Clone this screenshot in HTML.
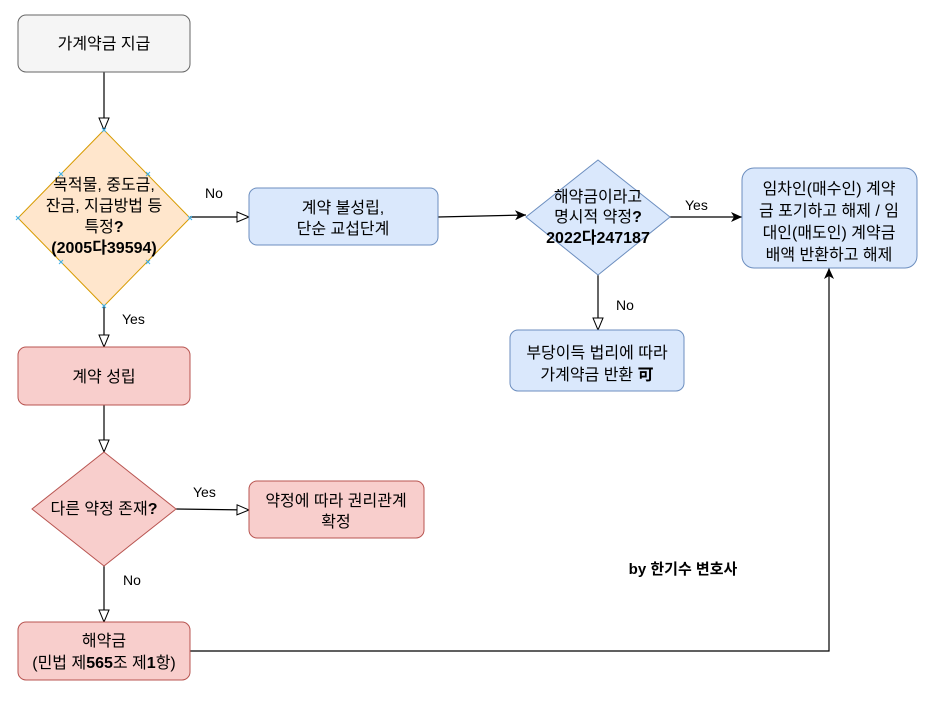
<!DOCTYPE html>
<html><head><meta charset="utf-8"><style>
html,body{margin:0;padding:0;background:#fff;}
svg{display:block;}
text{font-family:"Liberation Sans","Noto Sans CJK KR",sans-serif;font-size:16px;fill:#000;}
.b{font-weight:bold;}
.l{font-size:14px;}
</style></head><body>
<svg width="931" height="705" viewBox="0 0 931 705" xmlns="http://www.w3.org/2000/svg">
<defs>
<marker id="o" markerWidth="14" markerHeight="12" refX="13" refY="6" orient="auto" markerUnits="userSpaceOnUse"><path d="M1,1 L13,6 L1,11 Z" fill="#fff" stroke="#000" stroke-width="1"/></marker>
<marker id="f" markerWidth="12" markerHeight="10" refX="11" refY="5" orient="auto" markerUnits="userSpaceOnUse"><path d="M0,0 L11,5 L0,10 L3,5 Z" fill="#000"/></marker>
</defs>
<g stroke="#000" stroke-width="1.2" fill="none">
<path d="M104,72 V130" marker-end="url(#o)"/>
<path d="M190,217 H249" marker-end="url(#o)"/>
<path d="M438,217 L526,215" marker-end="url(#f)"/>
<path d="M670,217 H742" marker-end="url(#f)"/>
<path d="M598,275 V330" marker-end="url(#o)"/>
<path d="M104,306 V347" marker-end="url(#o)"/>
<path d="M104,405 V452" marker-end="url(#o)"/>
<path d="M176,509 L249,510" marker-end="url(#o)"/>
<path d="M104,566 V622" marker-end="url(#o)"/>
<path d="M190,651 H829 V268" marker-end="url(#f)"/>
</g>
<rect x="18" y="15" width="172" height="57" rx="8" fill="#f5f5f5" stroke="#666"/>
<text x="104" y="49" text-anchor="middle">가계약금 지급</text>
<polygon points="104,130 190,218 104,306 18,218" fill="#ffe6cc" stroke="#d79b00"/>
<g stroke="#3fb0e8" stroke-width="1">
<path d="M102,128l4,4M106,128l-4,4M59,172l4,4M63,172l-4,4M146,172l4,4M150,172l-4,4M16,216l4,4M20,216l-4,4M188,216l4,4M192,216l-4,4M59,260l4,4M63,260l-4,4M146,260l4,4M150,260l-4,4M102,304l4,4M106,304l-4,4"/>
</g>
<text x="104" y="190" text-anchor="middle">목적물, 중도금,</text>
<text x="104" y="211" text-anchor="middle">잔금, 지급방법 등</text>
<text x="104" y="232" text-anchor="middle">특정<tspan class="b">?</tspan></text>
<text x="104" y="253" text-anchor="middle" class="b">(2005다39594)</text>
<text x="205" y="198" class="l">No</text>
<rect x="249" y="188" width="189" height="57" rx="8" fill="#dae8fc" stroke="#6c8ebf"/>
<text x="343" y="213" text-anchor="middle">계약 불성립,</text>
<text x="343" y="234" text-anchor="middle">단순 교섭단계</text>
<polygon points="598,160 670,217 598,275 526,217" fill="#dae8fc" stroke="#6c8ebf"/>
<text x="598" y="202" text-anchor="middle">해약금이라고</text>
<text x="598" y="222" text-anchor="middle">명시적 약정<tspan class="b">?</tspan></text>
<text x="598" y="243" text-anchor="middle" class="b">2022다247187</text>
<text x="685" y="210" class="l">Yes</text>
<rect x="742" y="168" width="175" height="100" rx="12" fill="#dae8fc" stroke="#6c8ebf"/>
<text x="829" y="194" text-anchor="middle">임차인(매수인) 계약</text>
<text x="829" y="216" text-anchor="middle">금 포기하고 해제 / 임</text>
<text x="829" y="238" text-anchor="middle">대인(매도인) 계약금</text>
<text x="829" y="260" text-anchor="middle">배액 반환하고 해제</text>
<text x="616" y="310" class="l">No</text>
<rect x="510" y="330" width="174" height="61" rx="8" fill="#dae8fc" stroke="#6c8ebf"/>
<text x="597" y="358" text-anchor="middle">부당이득 법리에 따라</text>
<text x="597" y="380" text-anchor="middle">가계약금 반환 <tspan class="b">可</tspan></text>
<text x="122" y="324" class="l">Yes</text>
<rect x="18" y="347" width="172" height="58" rx="8" fill="#f8cecc" stroke="#b85450"/>
<text x="104" y="382" text-anchor="middle">계약 성립</text>
<polygon points="104,452 176,509 104,566 32,509" fill="#f8cecc" stroke="#b85450"/>
<text x="104" y="514" text-anchor="middle">다른 약정 존재<tspan class="b">?</tspan></text>
<text x="193" y="497" class="l">Yes</text>
<rect x="249" y="481" width="175" height="57" rx="8" fill="#f8cecc" stroke="#b85450"/>
<text x="336" y="506" text-anchor="middle">약정에 따라 권리관계</text>
<text x="336" y="527" text-anchor="middle">확정</text>
<text x="123" y="585" class="l">No</text>
<rect x="18" y="622" width="172" height="58" rx="8" fill="#f8cecc" stroke="#b85450"/>
<text x="104" y="646" text-anchor="middle">해약금</text>
<text x="104" y="668" text-anchor="middle">(민법 제<tspan class="b">565</tspan>조 제<tspan class="b">1</tspan>항)</text>
<text x="683" y="574" text-anchor="middle" class="b" style="font-size:15px">by 한기수 변호사</text>
</svg>
</body></html>
